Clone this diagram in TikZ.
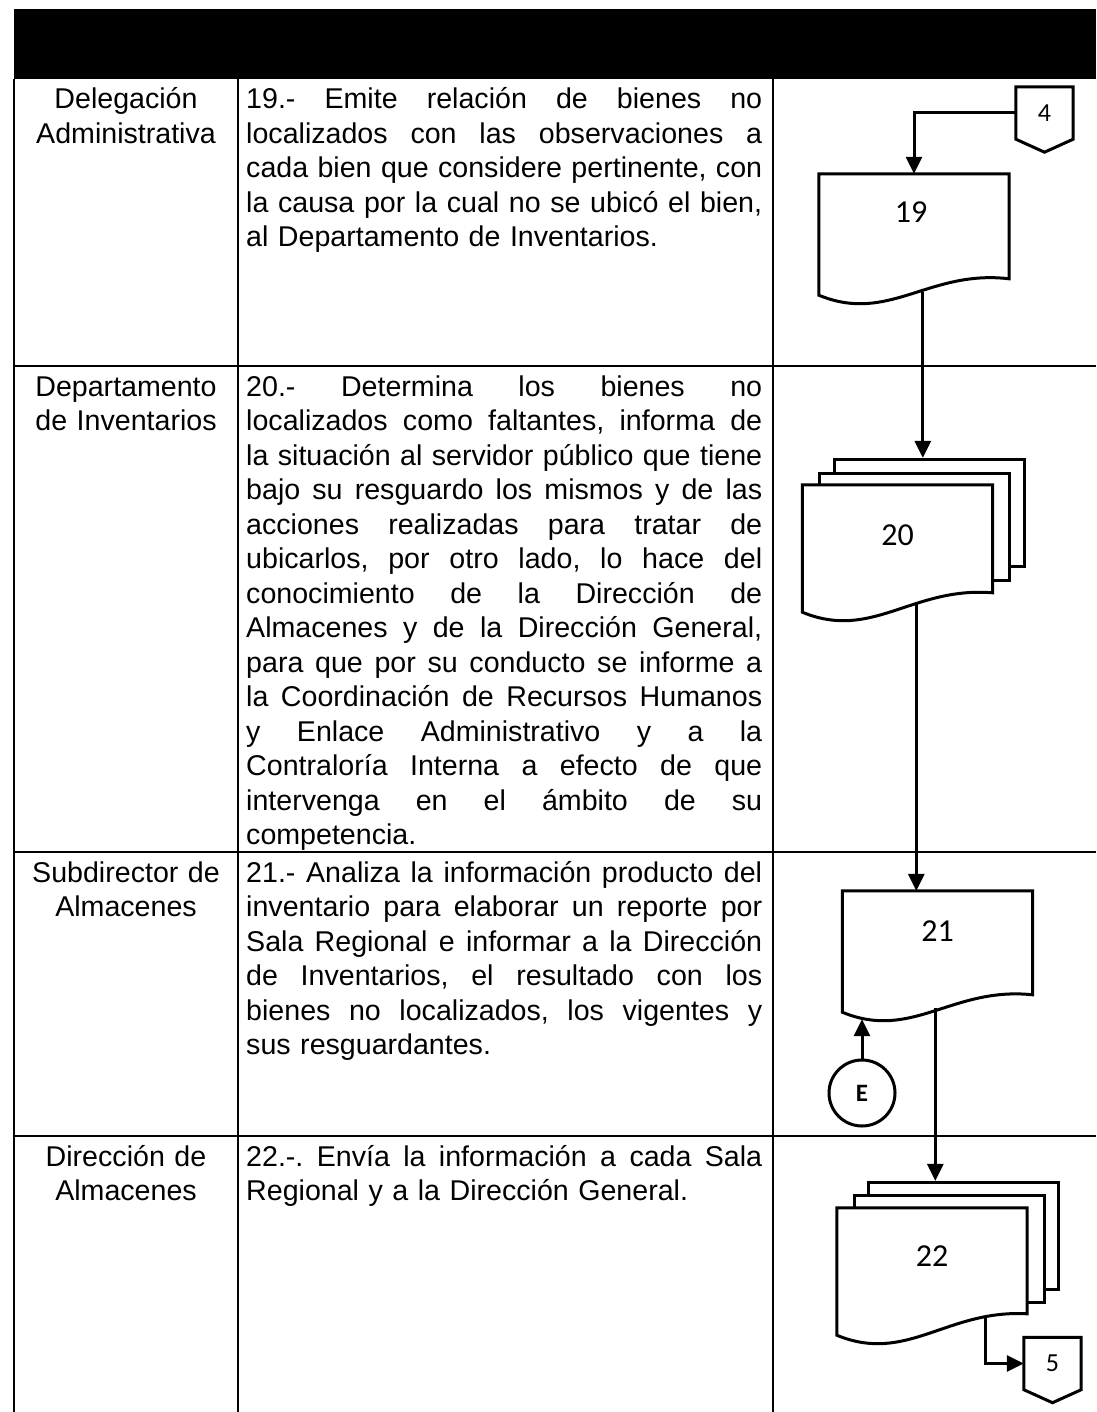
\documentclass[tikz,border=0pt]{standalone}
\usepackage{fontspec}
\setmainfont{Liberation Sans}
\newfontfamily\calib{Carlito}
\usetikzlibrary{arrows.meta,calc}

\newcommand{\jl}[1]{\leavevmode\hbox to \linewidth{\spaceskip=0.25em plus 1fil\relax\xspaceskip=\spaceskip #1}\\}
\newcommand{\docoutline}[2]{%
  \filldraw[shapeline, fill=white] (#1.south west) -- (#1.north west) -- (#1.north east)
    -- ($(#1.north east)+(0,#2)$)
    .. controls ($(#1.south west)+(110,-26)$) and ($(#1.south west)+(70,29)$) .. (#1.south west) -- cycle;}
\newcommand{\offpage}[1]{%
  \draw[shapeline] (#1.north west) -- (#1.north east) -- (#1.south east)
    -- ($(#1.south)+(0,13)$) -- (#1.south west) -- cycle;}

\begin{document}
\begin{tikzpicture}[x=1pt,y=-1pt,
  grid/.style={line width=1.6pt},
  cell/.style={anchor=base west, text width=516pt, inner sep=0pt, align=left,
    font=\fontsize{28.6}{34.5}\selectfont\frenchspacing},
  role/.style={anchor=base, text width=222pt, inner sep=0pt, align=center,
    font=\fontsize{28.6}{34.5}\selectfont\frenchspacing},
  shapeline/.style={line width=3pt, line join=miter},
  flow/.style={line width=3pt, -{Triangle[length=17pt,width=16pt]}},
  docbox/.style={minimum width=190pt, minimum height=121pt, inner sep=0pt, draw=none},
  pagebox/.style={shapeline, draw, fill=white, minimum width=190pt, minimum height=107pt, inner sep=0pt},
  doclabel/.style={font=\calib\fontsize{32}{34}\selectfont, inner sep=0pt},
  offbox/.style={minimum width=57pt, minimum height=52pt, inner sep=0pt,
    font=\calib\fontsize{26}{28}\selectfont},
  conn/.style={shapeline, draw, circle, minimum size=66pt, inner sep=0pt,
    font=\calib\bfseries\fontsize{25}{27}\selectfont}
]
\useasboundingbox (0,0) rectangle (1096,1412);
\fill[white] (0,0) rectangle (1096,1412);

% header and table
\fill[black] (14,9) rectangle (1096,79);
\draw[grid] (14,79) -- (14,1412);
\draw[grid] (238,79) -- (238,1412);
\draw[grid] (773,79) -- (773,1412);
\draw[grid] (14,366) -- (1096,366);
\draw[grid] (14,852) -- (1096,852);
\draw[grid] (14,1136) -- (1096,1136);

% roles
\node[role] (r1) at (126,109) {Delegación\\Administrativa};
\node[role] (r2) at (126,396) {Departamento\\de Inventarios};
\node[role] (r3) at (126,882) {Subdirector de\\Almacenes};
\node[role] (r4) at (126,1166) {Dirección de\\Almacenes};

% descriptions
\node[cell] (a1) at (246,109) {%
\jl{19.- Emite relación de bienes no}%
\jl{localizados con las observaciones a}%
\jl{cada bien que considere pertinente, con}%
\jl{la causa por la cual no se ubicó el bien,}%
al Departamento de Inventarios.};

\node[cell] (a2) at (246,396) {%
\jl{20.- Determina los bienes no}%
\jl{localizados como faltantes, informa de}%
\jl{la situación al servidor público que tiene}%
\jl{bajo su resguardo los mismos y de las}%
\jl{acciones realizadas para tratar de}%
\jl{ubicarlos, por otro lado, lo hace del}%
\jl{conocimiento de la Dirección de}%
\jl{Almacenes y de la Dirección General,}%
\jl{para que por su conducto se informe a}%
\jl{la Coordinación de Recursos Humanos}%
\jl{y Enlace Administrativo y a la}%
\jl{Contraloría Interna a efecto de que}%
\jl{intervenga en el ámbito de su}%
competencia.};

\node[cell] (a3) at (246,882) {%
\jl{21.- Analiza la información producto del}%
\jl{inventario para elaborar un reporte por}%
\jl{Sala Regional e informar a la Dirección}%
\jl{de Inventarios, el resultado con los}%
\jl{bienes no localizados, los vigentes y}%
sus resguardantes.};

\node[cell] (a4) at (246,1166) {%
\jl{22.-. Envía la información a cada Sala}%
Regional y a la Dirección General.};

% off-page connector 4
\node[offbox] (c4) at (1044.5,113) {4};
\offpage{c4}

% document 19
\node[docbox] (d19) at (914,234.5) {};
\docoutline{d19}{105}
\node[doclabel] (t19) at ($(d19.north)+(-3,38)$) {19};

% multi-document 20
\node[docbox, minimum height=127pt] (d20) at (897.5,548.5) {};
\node[pagebox, anchor=north west] (d20b) at ($(d20.north west)+(31,-27)$) {};
\node[pagebox, anchor=north west] (d20m) at ($(d20.north west)+(16,-13)$) {};
\docoutline{d20}{108}
\node[doclabel] (t20) at ($(d20.north)+(0,50)$) {20};

% document 21
\node[docbox] (d21) at (937.5,951.5) {};
\docoutline{d21}{104}
\node[doclabel] (t21) at ($(d21.north)+(0,40)$) {21};

% connector E
\node[conn] (e) at (862,1093) {E};

% multi-document 22
\node[docbox, minimum height=127pt] (d22) at (932,1271.5) {};
\node[pagebox, anchor=north west] (d22b) at ($(d22.north west)+(30,-27)$) {};
\node[pagebox, anchor=north west] (d22m) at ($(d22.north west)+(16,-14)$) {};
\docoutline{d22}{106}
\node[doclabel] (t22) at ($(d22.north)+(0,48)$) {22};

% off-page connector 5
\node[offbox] (c5) at (1052.5,1363.5) {5};
\offpage{c5}

% connection points on the wavy edges
\coordinate (o19) at ($(d19.south west)+(104,-3)$);
\coordinate (o20) at ($(d20.south west)+(114,-8)$);
\coordinate (o21) at ($(d21.south west)+(93,-4)$);
\coordinate (i21) at ($(d21.south west)+(18,7)$);
\coordinate (o22) at ($(d22.south west)+(149,-18)$);

% flow
\draw[flow] (c4.west) -| (d19.north);
\draw[flow] (o19) -- (o19 |- d20b.north);
\draw[flow] (o20) -- (o20 |- d21.north);
\draw[flow] (e.north) -- (e.north |- i21);
\draw[flow] (o21) -- (o21 |- d22b.north);
\draw[flow] (o22) |- (c5.west);
\end{tikzpicture}
\end{document}
